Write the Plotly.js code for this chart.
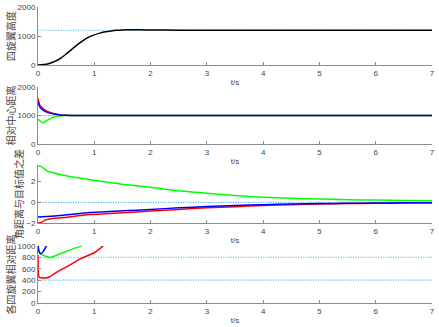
<!DOCTYPE html>
<html>
<head>
<meta charset="utf-8">
<script src="https://cdn.plot.ly/plotly-3.0.1.min.js"></script>
<style>html,body{margin:0;padding:0;background:#fff;}#chart{width:439px;height:327px;}</style>
</head>
<body>
<div id="chart"></div>
<script>
// Panel 1: altitude
const t1 = [0,0.1,0.2,0.3,0.4,0.5,0.6,0.7,0.8,0.9,1.0,1.1,1.2,1.3,1.4,1.5,1.6,1.8,2.0,2.5,3,4,5,6,7];
const altitude = [0,15,55,125,230,380,540,700,840,960,1040,1100,1145,1175,1195,1208,1214,1214,1208,1202,1200,1200,1200,1200,1200];
const altitudeTarget = 1200;

// Panel 2: distance to centre
const t2r = [0,0.036,0.095,0.18,0.27,0.39,0.5,0.6,1,2,3,4,5,6,7];
const distRed = [1610,1350,1230,1130,1070,1020,1005,1000,1000,1000,1000,1000,1000,1000,1000];
const t2g = [0,0.04,0.08,0.12,0.18,0.27,0.39,0.5,0.6,1,2,3,4,5,6,7];
const distGreen = [880,800,750,770,845,940,986,998,1000,1000,1000,1000,1000,1000,1000,1000];
const t2b = [0,0.036,0.095,0.18,0.27,0.39,0.5,0.6,1,2,3,4,5,6,7];
const distBlue = [1460,1290,1180,1100,1060,1020,1005,1000,1000,1000,1000,1000,1000,1000,1000];
const distTarget = 1000;

// Panel 3: angle distance error
const t3g = [0,0.065,0.15,0.24,0.45,0.92,1.5,2,2.5,3,3.5,4,4.5,5,5.5,6,6.5,7];
const angGreen = [3.55,3.43,3.07,2.9,2.61,2.19,1.75,1.45,1.12,0.88,0.66,0.5,0.4,0.32,0.26,0.22,0.18,0.15];
const t3r = [0,0.065,0.12,0.21,0.45,0.92,1.5,2,2.5,3,3.5,4,4.5,5,5.5,6,6.5,7];
const angRed = [-2.0,-1.93,-1.72,-1.6,-1.47,-1.18,-1.0,-0.84,-0.68,-0.53,-0.42,-0.3,-0.22,-0.16,-0.12,-0.09,-0.07,-0.05];
const t3b = [0,0.45,0.92,1.5,2,2.5,3,3.5,4,4.5,5,5.5,6,6.5,7];
const angBlue = [-1.41,-1.24,-0.98,-0.82,-0.68,-0.53,-0.4,-0.3,-0.22,-0.16,-0.12,-0.09,-0.07,-0.05,-0.04];
const angTarget = 0;

// Panel 4: relative distance between quadrotors
const t4r = [0,0.02,0.06,0.12,0.2,0.3,0.57,0.75,1.0,1.16];
const relRed = [842,450,440,438,455,520,667,772,880,1000];
const t4g = [0,0.03,0.12,0.21,0.39,0.57,0.78];
const relGreen = [1000,870,825,795,860,930,1000];
const t4b = [0,0.02,0.05,0.09,0.15];
const relBlue = [1000,900,860,900,1000];
const relLimits = [800, 400];

const xTicks = [0,1,2,3,4,5,6,7];
const yLabels = ['四旋翼高度','相对中心距离','角距离与目标值之差','各四旋翼相对距离'];
const xLabel = 't/s';

const CTARGET = '#4DBEEE';
const tEnd = xTicks[xTicks.length-1];
function hline(y, xa, ya) {
  return {x:[0,tEnd], y:[y,y], xaxis:xa, yaxis:ya, mode:'lines', line:{color:CTARGET, dash:'1.2px,1.3px', width:1.1}, hoverinfo:'skip'};
}
function curve(x, y, color, xa, ya) {
  return {x:x, y:y, xaxis:xa, yaxis:ya, mode:'lines', line:{color:color, width:1.5, shape:'spline', smoothing:0.6}};
}

const data = [
  hline(altitudeTarget,'x','y'),
  curve(t1, altitude, '#000000','x','y'),
  hline(distTarget,'x2','y2'),
  curve(t2r, distRed, '#FF0000','x2','y2'),
  curve(t2g, distGreen, '#00FF00','x2','y2'),
  curve(t2b, distBlue, '#0000FF','x2','y2'),
  hline(angTarget,'x3','y3'),
  curve(t3g, angGreen, '#00FF00','x3','y3'),
  curve(t3r, angRed, '#FF0000','x3','y3'),
  curve(t3b, angBlue, '#0000FF','x3','y3'),
  hline(relLimits[0],'x4','y4'),
  hline(relLimits[1],'x4','y4'),
  curve(t4r, relRed, '#FF0000','x4','y4'),
  curve(t4g, relGreen, '#00FF00','x4','y4'),
  curve(t4b, relBlue, '#0000FF','x4','y4')
];

const TXT = '#444';
const LINE = '#8c8c8c';
function xax(anchor) {
  return {anchor:anchor, domain:[0,1], range:[0,7], tickvals:xTicks, ticks:'inside', ticklen:3, tickcolor:LINE,
    showline:true, linecolor:LINE, linewidth:1, showgrid:false, zeroline:false,
    tickfont:{family:'Arial, Liberation Sans, sans-serif', size:8, color:TXT},
    title:{text:xLabel, font:{family:'Arial, Liberation Sans, sans-serif', size:8, color:TXT}, standoff:2}};
}
function yax(anchor, domain, range, tickvals, label) {
  return {anchor:anchor, domain:domain, range:range, tickvals:tickvals, ticks:'inside', ticklen:3, tickcolor:LINE,
    showline:true, linecolor:LINE, linewidth:1, showgrid:false, zeroline:false,
    tickfont:{family:'Arial, Liberation Sans, sans-serif', size:8, color:TXT},
    title:{text:label, font:{family:'Noto Sans CJK SC, sans-serif', size:10, color:TXT}, standoff:0}};
}

const layout = {
  width:439, height:327,
  margin:{l:38, r:7, t:7, b:24},
  paper_bgcolor:'#fff', plot_bgcolor:'#fff',
  showlegend:false,
  xaxis: xax('y'),
  xaxis2: xax('y2'),
  xaxis3: xax('y3'),
  xaxis4: xax('y4'),
  yaxis: yax('x', [0.804,1.0], [0,2000], [0,1000,2000], yLabels[0]),
  yaxis2: yax('x2', [0.537,0.730], [0,2000], [0,1000,2000], yLabels[1]),
  yaxis3: yax('x3', [0.270,0.466], [-2,3.6], [-2,0,2], yLabels[2]),
  yaxis4: yax('x4', [0,0.193], [0,1000], [0,200,400,600,800,1000], yLabels[3])
};

Plotly.newPlot('chart', data, layout, {staticPlot:true, displayModeBar:false});
</script>
</body>
</html>
